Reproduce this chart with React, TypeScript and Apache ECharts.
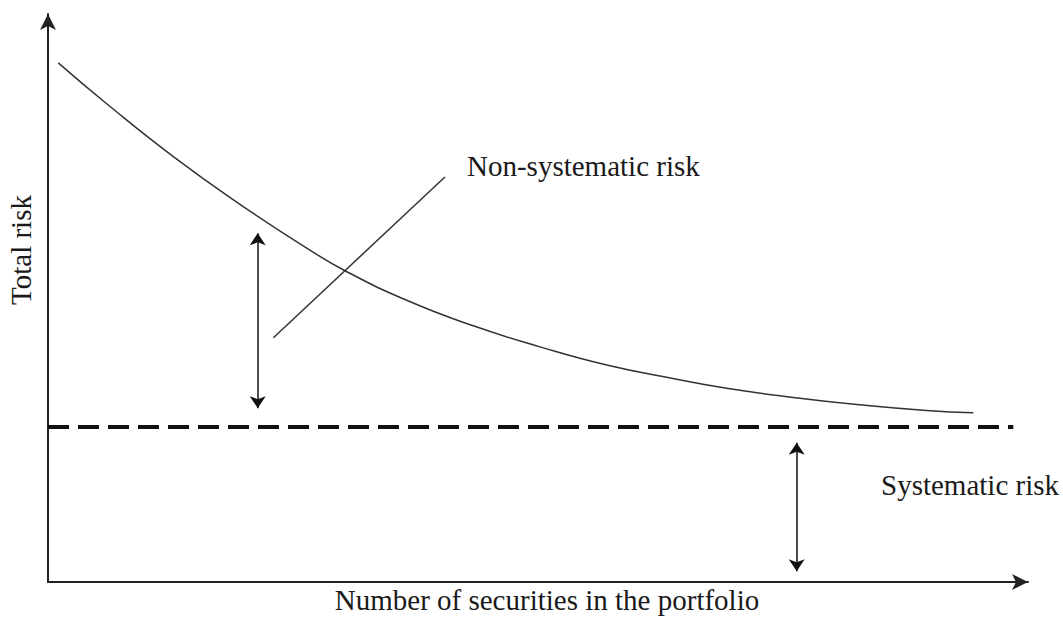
import React, { useEffect, useRef } from "react";
import * as echarts from "echarts";

// Total risk curve (x: number of securities, y: risk)
const curveX = [1.05, 5.99, 12.79, 19.59, 26.4, 30.31, 36.6, 43.4, 50.2, 57.01, 64.15, 69.26, 76.05, 82.86, 89.66, 94.42];
const curveY = [91.4, 84.2, 74.9, 66.5, 58.8, 54.8, 49.6, 45.1, 41.4, 38.2, 35.7, 34.1, 32.5, 31.2, 30.2, 29.8];

// Systematic risk level (dashed line)
const systematicLevel = 27.3;
const systematicSpan = [0, 98.5];

// Double arrows: [x, yTop, yBottom]
const nonSystematicArrow = [21.4, 61.4, 30.6];
const systematicArrow = [76.4, 24.5, 1.9];

// Leader line for the "Non-systematic risk" label
const leaderLine = [[23.0, 43.0], [40.5, 71.3]];

const xTitle = "Number of securities in the portfolio";
const yTitle = "Total risk";
const nonSysLabel = "Non-systematic risk";
const sysLabel = "Systematic risk";

const FONT = "'Liberation Serif', 'Times New Roman', serif";
const TXT = "#1a1a1a";

export default function App() {
  const ref = useRef<HTMLDivElement>(null);
  useEffect(() => {
    if (!ref.current) return;
    const chart = echarts.init(ref.current, null, { renderer: "svg" });
    const axisCommon = {
      type: "value" as const,
      min: 0,
      max: 100,
      axisTick: { show: false },
      axisLabel: { show: false },
      splitLine: { show: false },
      axisLine: {
        show: true,
        symbol: ["none", "arrow"],
        symbolSize: [12, 16],
        lineStyle: { color: "#222", width: 2 },
      },
    };
    chart.setOption({
      animation: false,
      backgroundColor: "#fff",
      grid: { left: 48, right: 35, top: 14, bottom: 35 },
      xAxis: { ...axisCommon },
      yAxis: { ...axisCommon },
      series: [
        {
          type: "line",
          data: curveX.map((x, i) => [x, curveY[i]]),
          smooth: 0.5,
          showSymbol: false,
          lineStyle: { color: "#333", width: 1.5 },
        },
        {
          type: "line",
          data: systematicSpan.map((x) => [x, systematicLevel]),
          showSymbol: false,
          lineStyle: { color: "#111", width: 4, type: [21, 9] },
        },
        {
          type: "line",
          data: leaderLine,
          showSymbol: false,
          lineStyle: { color: "#333", width: 1.5 },
        },
        {
          type: "lines",
          coordinateSystem: "cartesian2d",
          symbol: ["arrow", "arrow"],
          symbolSize: 12,
          lineStyle: { color: "#111", width: 1.5, opacity: 1 },
          data: [nonSystematicArrow, systematicArrow].map((a) => ({
            coords: [
              [a[0], a[1]],
              [a[0], a[2]],
            ],
          })),
        },
      ],
      graphic: [
        {
          type: "text",
          left: 467,
          top: 151,
          style: { text: nonSysLabel, font: `29px ${FONT}`, fill: TXT },
        },
        {
          type: "text",
          left: 881,
          top: 470,
          style: { text: sysLabel, font: `29px ${FONT}`, fill: TXT },
        },
        {
          type: "text",
          x: 547,
          y: 600,
          style: { text: xTitle, font: `29px ${FONT}`, fill: TXT, align: "center", verticalAlign: "middle" },
        },
        {
          type: "text",
          x: 21,
          y: 250,
          rotation: Math.PI / 2,
          style: { text: yTitle, font: `29px ${FONT}`, fill: TXT, align: "center", verticalAlign: "middle" },
        },
      ],
    });
    return () => chart.dispose();
  }, []);
  return <div ref={ref} style={{ width: 1063, height: 617, position: "absolute", left: 0, top: 0 }} />;
}
